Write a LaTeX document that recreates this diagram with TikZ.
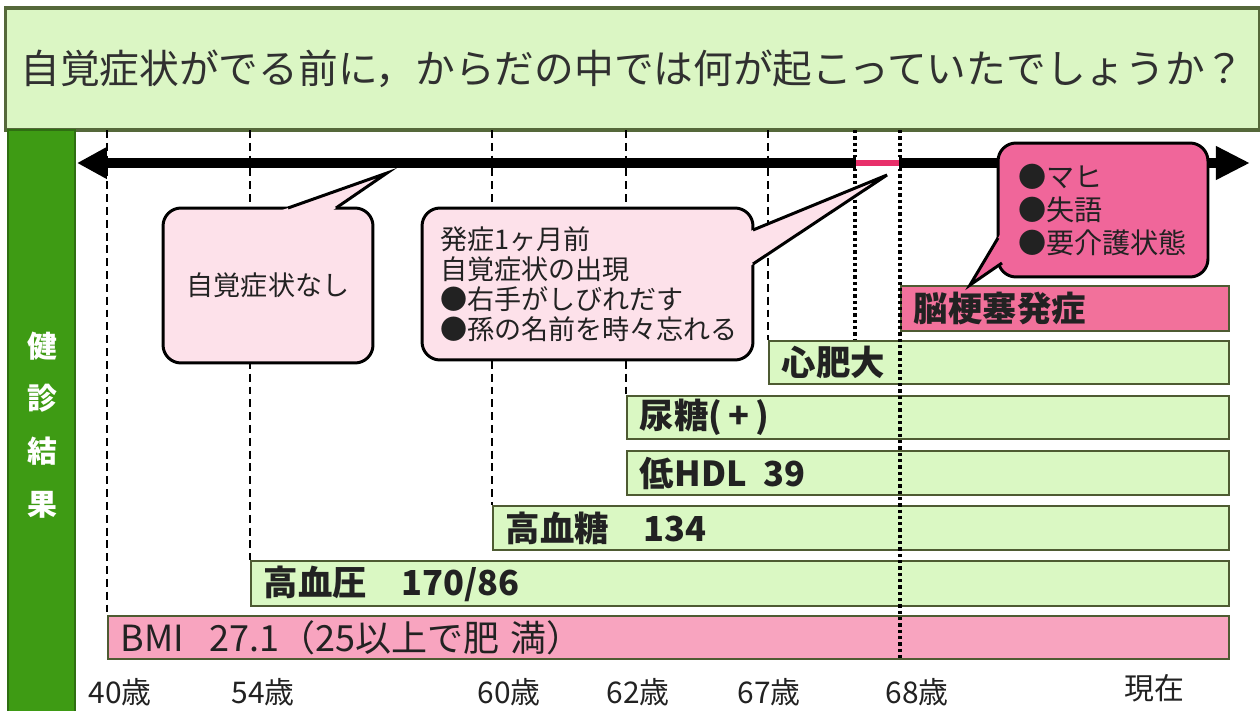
\documentclass[tikz,border=0pt]{standalone}
\usepackage{fontspec}
\setmainfont{Noto Sans CJK JP}
\usetikzlibrary{arrows.meta,calc}
\definecolor{titlefill}{HTML}{DBF6C4}
\definecolor{titleline}{HTML}{55683A}
\definecolor{titletext}{HTML}{303030}
\definecolor{barfill}{HTML}{DAF8C3}
\definecolor{barline}{HTML}{4E5B32}
\definecolor{sidegreen}{HTML}{3E9B14}
\definecolor{sideline}{HTML}{2F6E12}
\definecolor{lightpink}{HTML}{FDE1EA}
\definecolor{hotpink}{HTML}{F0669A}
\definecolor{strokepink}{HTML}{F2719B}
\definecolor{bmipink}{HTML}{F8A4BF}
\definecolor{redseg}{HTML}{E8306A}
\definecolor{ink}{HTML}{222222}
\newcommand\fsz[2]{\fontsize{#1}{#2}\selectfont}
\newcommand\callptr[4]{%
  \fill[#4] ($(#1)!-0.15!(#2)$) -- (#2) -- ($(#3)!-0.15!(#2)$) -- cycle;
  \draw[line width=1.7pt, line join=miter] (#1) -- (#2) -- (#3);
}
\tikzset{
  titlebox/.style={draw=titleline, line width=1.8pt, fill=titlefill, minimum width=25.1cm, minimum height=2.44cm, inner sep=0pt, font=\fsz{22.6pt}{26pt}, text=titletext},
  sidebar/.style={draw=sideline, line width=0.8pt, fill=sidegreen, minimum width=1.34cm, minimum height=11.64cm, inner sep=0pt},
  sidetext/.style={text=white, font=\fsz{17pt}{30pt}\bfseries, align=center, inner sep=0pt},
  agelabel/.style={font=\fsz{17pt}{19pt}, text=ink, inner sep=0pt},
  vdash/.style={line width=0.6pt, dash pattern=on 4.5pt off 2.8pt},
  vdot/.style={line width=2pt, dash pattern=on 1.9pt off 1.7pt},
  hbar/.style={draw=barline, line width=1.1pt, fill=barfill, anchor=north west, inner xsep=0.26cm, inner ysep=0pt, minimum height=#1, align=left, font=\fsz{19.6pt}{22pt}\bfseries, text=ink},
  callbox/.style={draw=black, line width=1.7pt, rounded corners=0.36cm, inner ysep=0pt, text=ink, font=\fsz{15.4pt}{17pt}},
  timeline/.style={line width=5.7pt, arrows={Triangle[length=17pt,width=17pt]-Triangle[length=19.5pt,width=18pt]}},
}
\begin{document}
\begin{tikzpicture}[x=0.02cm, y=-0.02cm]
\useasboundingbox[fill=white] (0,0) rectangle (1260,710);

% title
\node[titlebox] (title) at (632.5,69) {自覚症状がでる前に，からだの中では何が起こっていたでしょうか？};

% side bar
\node[sidebar] (side) at (41.5,421) {};
\node[sidetext] (kenshin) at (42,425) {健\\診\\結\\果};

% guide lines
\coordinate (g40t) at (107,130);  \coordinate (g40b) at (107,615);
\coordinate (g54t) at (250,130);  \coordinate (g54b) at (250,560);
\coordinate (g60t) at (492,130);  \coordinate (g60b) at (492,505);
\coordinate (g62t) at (626,130);  \coordinate (g62b) at (626,395);
\coordinate (g67t) at (768,130);  \coordinate (g67b) at (768,340);
\coordinate (gmt) at (855,130);   \coordinate (gmb) at (855,340);
\coordinate (g68t) at (900,130);  \coordinate (g68b) at (900,658);
\draw[vdash] (g40t) -- (g40b);
\draw[vdash] (g54t) -- (g54b);
\draw[vdash] (g60t) -- (g60b);
\draw[vdash] (g62t) -- (g62b);
\draw[vdash] (g67t) -- (g67b);
\draw[vdot] (gmt) -- (gmb);

% bars
\node[hbar=0.9cm, fill=strokepink, text width=6.04cm] (stroke) at (900,285) {脳梗塞発症};
\node[hbar=0.86cm, text width=8.68cm] (heart) at (768,340) {心肥大};
\node[hbar=0.86cm, text width=11.52cm] (urine) at (626,395) {尿糖(\,+\,)};
\node[hbar=0.88cm, text width=11.52cm] (hdl) at (626,450) {低HDL\hspace{0.5em}39};
\node[hbar=0.88cm, text width=14.2cm] (glucose) at (492,505) {高血糖\hspace{1em}134};
\node[hbar=0.9cm, text width=19.04cm] (bp) at (250,560) {高血圧\hspace{1em}170/86};
\node[hbar=0.86cm, fill=bmipink, text width=21.9cm, font=\fsz{20.5pt}{22pt}] (bmi) at (107,615) {BMI\hspace{0.7em}27.1（25以上で肥\hspace{0.3em}満）};

\draw[vdot] (g68t) -- (g68b);

% timeline
\coordinate (tl) at (77,163);
\coordinate (tr) at (1250,163);
\draw[timeline] (tl) -- (tr);
\coordinate (r1) at (856,163);
\coordinate (r2) at (899,163);
\draw[white, line width=6.5pt] (r1) -- (r2);
\draw[redseg, line width=3.4pt] (r1) -- (r2);

% callout 1
\node[callbox, fill=lightpink, minimum width=4.2cm, minimum height=3.1cm] (c1) at (268,285.5) {自覚症状なし};
\coordinate (c1a) at (288,208);
\coordinate (c1t) at (387,173);
\coordinate (c1b) at (336,208);
\callptr{c1a}{c1t}{c1b}{lightpink}

% callout 2
\node[callbox, fill=lightpink, minimum width=6.62cm, minimum height=3.04cm, inner xsep=0.36cm, text width=5.9cm, align=left] (c2) at (587.5,284)
  {発症1ヶ月前\\自覚症状の出現\\●右手がしびれだす\\●孫の名前を時々忘れる};
\coordinate (c2a) at (753,230);
\coordinate (c2t) at (887,175);
\coordinate (c2b) at (753,264);
\callptr{c2a}{c2t}{c2b}{lightpink}

% callout 3
\node[callbox, fill=hotpink, minimum width=4.2cm, minimum height=2.68cm, inner xsep=0.4cm, text width=3.4cm, align=left, font=\fsz{16pt}{19pt}] (c3) at (1103,210)
  {●マヒ\\●失語\\●要介護状態};
\coordinate (c3a) at (998,238);
\coordinate (c3t) at (970,285);
\coordinate (c3b) at (1002,263);
\callptr{c3a}{c3t}{c3b}{hotpink}

% age labels
\node[agelabel] (a40) at (120,692) {40歳};
\node[agelabel] (a54) at (263,692) {54歳};
\node[agelabel] (a60) at (509,692) {60歳};
\node[agelabel] (a62) at (638,692) {62歳};
\node[agelabel] (a67) at (769,692) {67歳};
\node[agelabel] (a68) at (917,692) {68歳};
\node[agelabel] (now) at (1154,688) {現在};
\end{tikzpicture}
\end{document}
